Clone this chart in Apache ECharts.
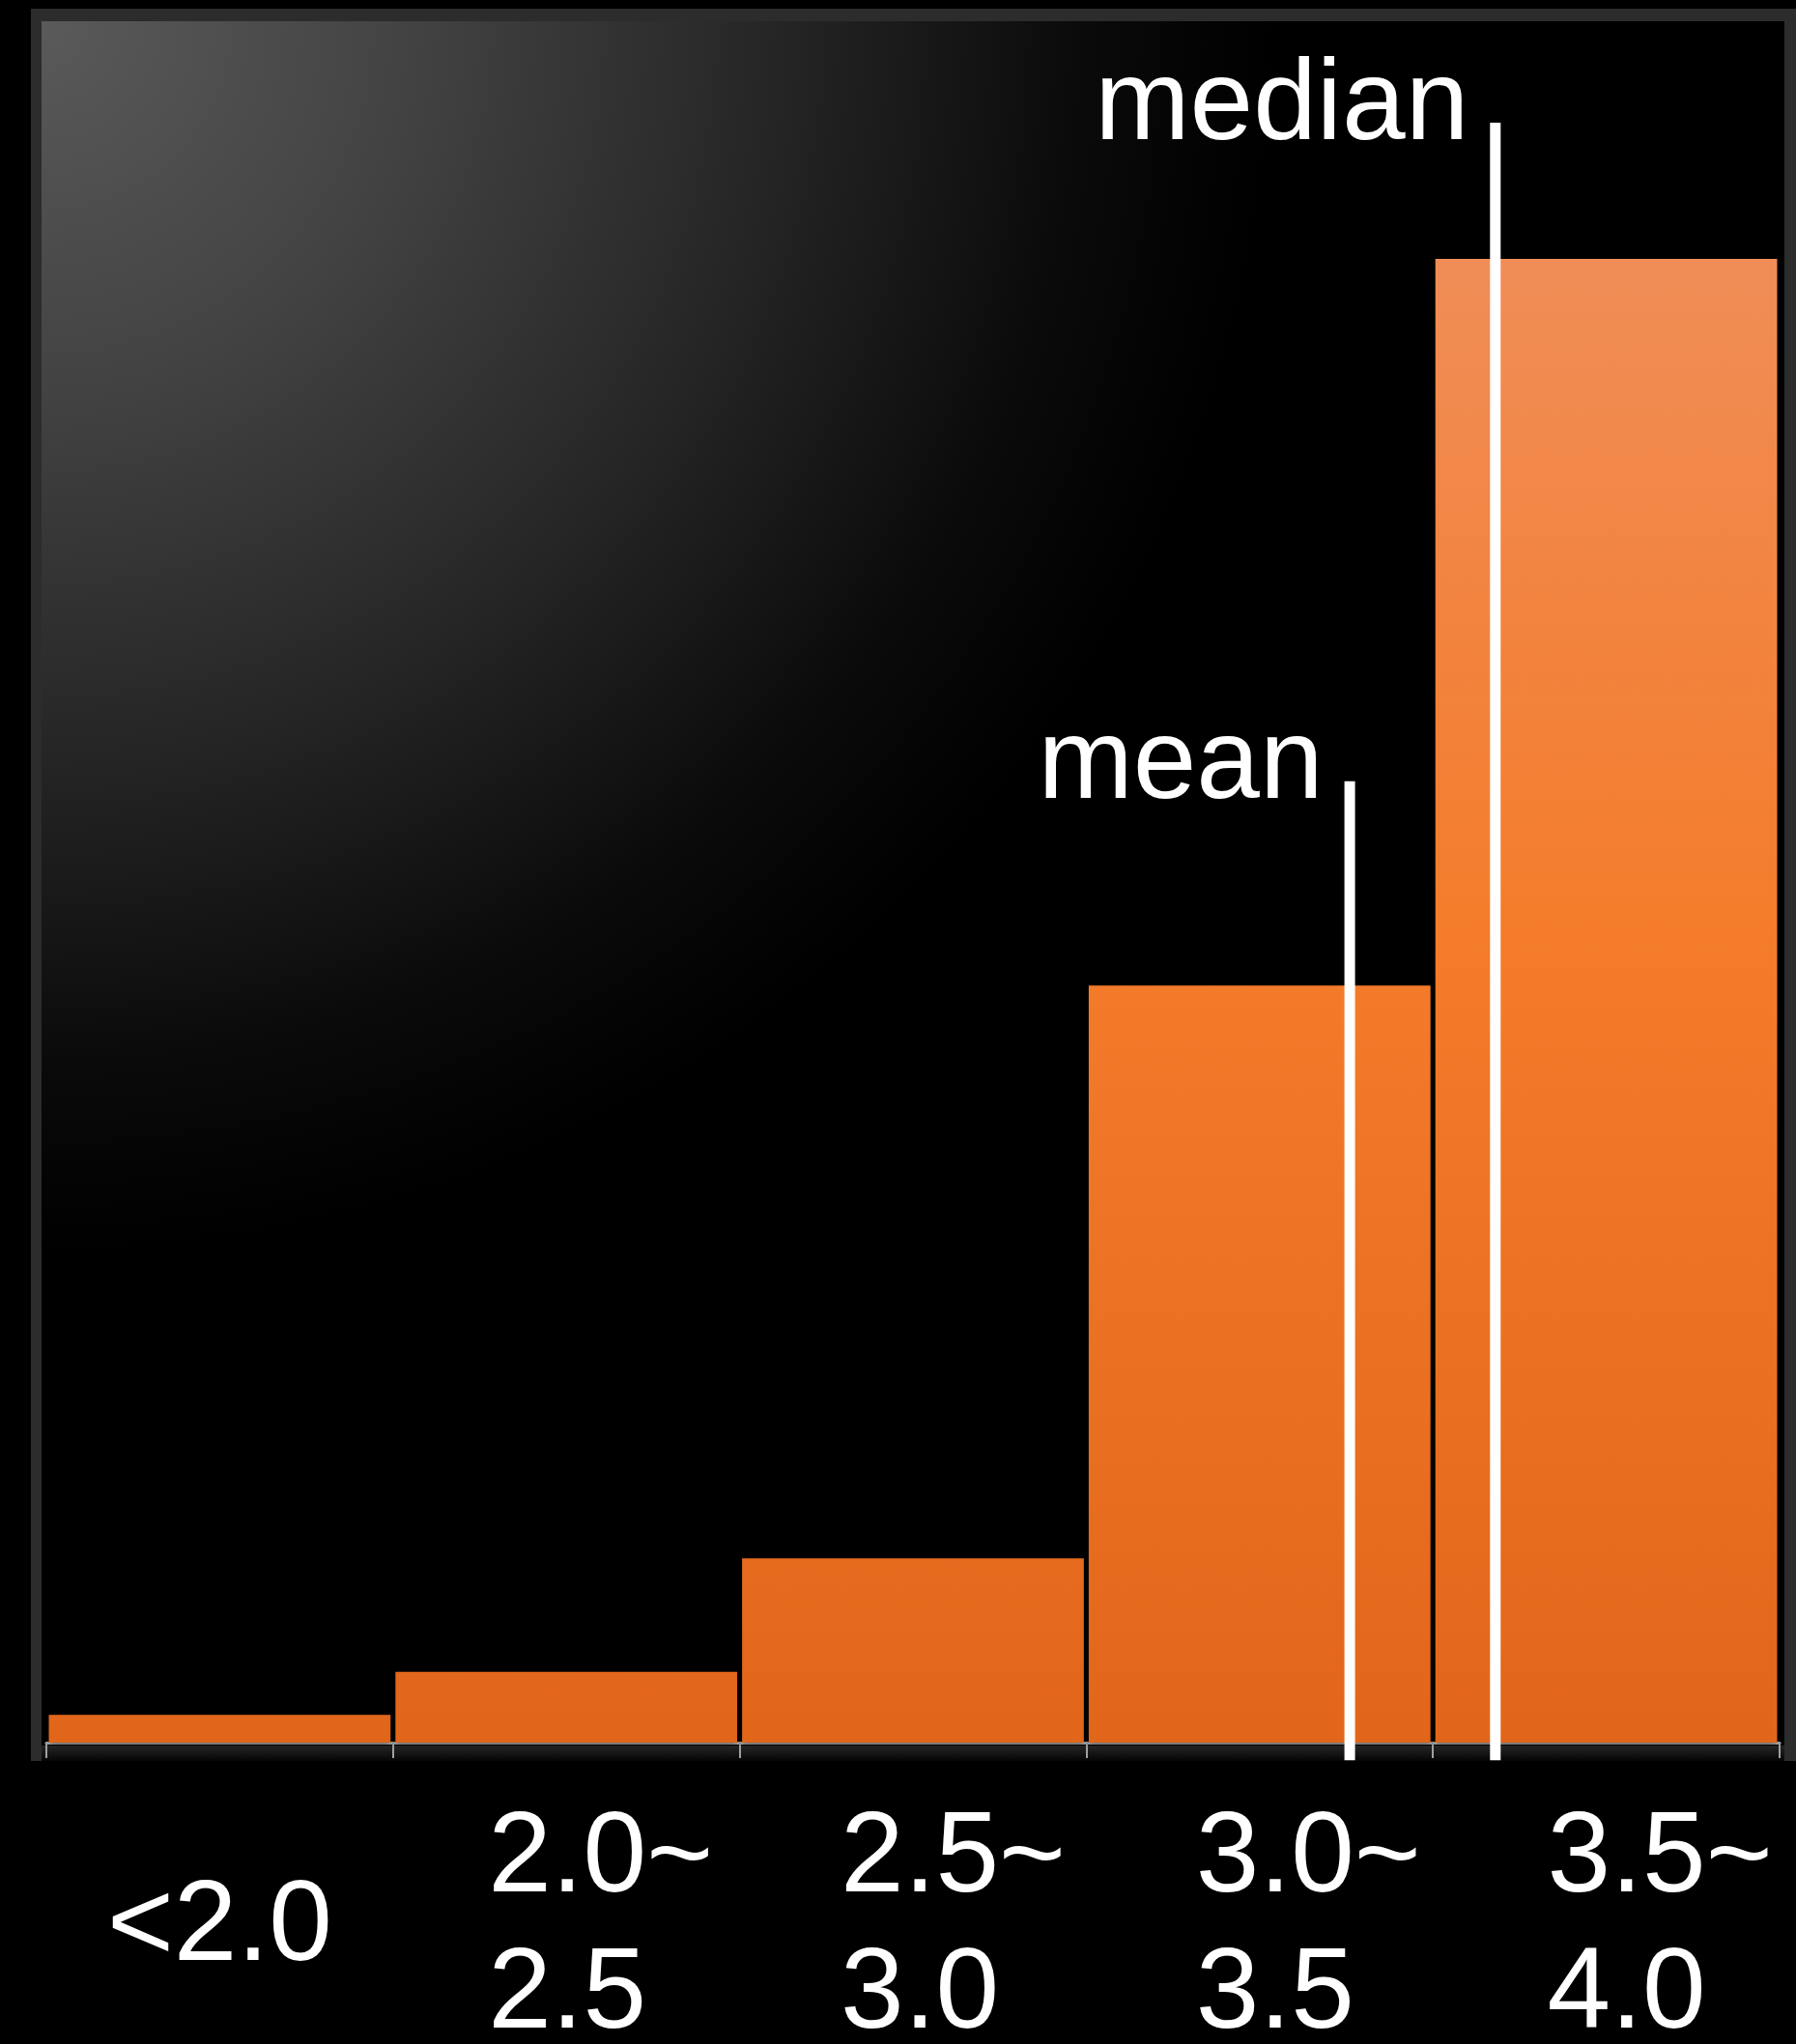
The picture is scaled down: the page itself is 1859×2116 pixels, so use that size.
<!DOCTYPE html>
<html><head><meta charset="utf-8">
<script src="https://cdn.jsdelivr.net/npm/echarts@6/dist/echarts.min.js"></script>
<style>html,body{margin:0;padding:0;background:#000;}#c{width:1859px;height:2116px;}</style>
</head><body><div id="c"></div>
<script>
// ---- data ----
const categories = ['<2.0', '2.0~\n2.5', '2.5~\n3.0', '3.0~\n3.5', '3.5~\n4.0'];
const shares = [1.1, 2.8, 7.3, 30.0, 58.8];
const statNames = ['mean', 'median'];
const statValues = [3.38, 3.59];
const statLineTops = [38.1, 64.2];
const statLineBottom = -0.7;
const binRange = [1.5, 4.0];
const yMax = 65;

const FONT = '"Liberation Sans", Arial, Helvetica, sans-serif';
const chart = echarts.init(document.getElementById('c'));

const labelBoxWidths = [0, 162, 150, 132, 122];
const richStyles = {
  s: { align: 'center', color: '#fff', fontSize: 118, lineHeight: 141, fontFamily: FONT }
};
labelBoxWidths.forEach((w, i) => {
  richStyles['l' + i] = { width: w || 150, align: 'left', color: '#fff', fontSize: 118, lineHeight: 141, fontFamily: FONT };
});

const lineSeries = statNames.map((n, i) => ({
  type: 'line', name: n, xAxisIndex: 1, yAxisIndex: 0,
  data: [[statValues[i], statLineBottom], [statValues[i], statLineTops[i]]],
  symbol: 'none', clip: false, silent: true, z: 5,
  lineStyle: { color: '#ffffff', width: 11, cap: 'butt', opacity: 1 }
}));

chart.setOption({
  backgroundColor: '#000',
  animation: false,
  graphic: { elements: [
    { type: 'rect', z: -20, silent: true, shape: { x: 32, y: 9, width: 1827, height: 1814 }, style: { fill: '#2c2c2c' } },
    { type: 'rect', z: -19, silent: true, shape: { x: 43, y: 22, width: 1804, height: 1785 },
      style: { fill: { type: 'radial', x: 43, y: 22, r: 1500, global: true, colorStops: [
        { offset: 0, color: '#5a5a5a' }, { offset: 0.25, color: '#434343' }, { offset: 0.5, color: '#262626' },
        { offset: 0.72, color: '#0a0a0a' }, { offset: 0.85, color: '#000' }, { offset: 1, color: '#000' } ] } } },
    { type: 'rect', z: -19, silent: true, shape: { x: 43, y: 1807, width: 1804, height: 16 },
      style: { fill: { type: 'linear', x: 0, y: 0, x2: 0, y2: 1, colorStops: [
        { offset: 0, color: '#262626' }, { offset: 1, color: '#050505' } ] } } }
  ] },
  grid: { left: 48, right: 17, top: 106, bottom: 312, containLabel: false, outerBoundsMode: 'none' },
  xAxis: [
    { type: 'category', data: categories, boundaryGap: true,
      axisLine: { show: true, lineStyle: { color: '#b4b4b4', width: 3 } },
      axisTick: { show: true, length: 16, lineStyle: { color: '#a0a0a0', width: 2 } },
      axisLabel: {
        interval: 0, margin: 192, align: 'center', verticalAlign: 'middle',
        formatter: function (v, idx) {
          if (v.indexOf('\n') >= 0) {
            return v.split('\n').map(s => '{l' + idx + '|' + s + '}').join('\n');
          }
          return '{s|' + v + '}';
        },
        rich: richStyles
      },
      splitLine: { show: false }
    },
    { type: 'value', min: binRange[0], max: binRange[1], show: false, gridIndex: 0 }
  ],
  yAxis: { type: 'value', min: 0, max: yMax, show: false, splitLine: { show: false } },
  series: [
    { type: 'bar', data: shares, barCategoryGap: '1.4%', xAxisIndex: 0, z: 2,
      itemStyle: {
        color: { type: 'linear', x: 0, y: 268, x2: 0, y2: 1804, global: true, colorStops: [
          { offset: 0, color: '#f08d57' }, { offset: 0.45, color: '#f47c2b' }, { offset: 1, color: '#e2661a' } ] },
        shadowBlur: 6, shadowColor: 'rgba(0,0,0,0.8)'
      }
    },
    ...lineSeries,
    { type: 'scatter', xAxisIndex: 1, yAxisIndex: 0, z: 6, silent: true,
      data: statNames.map((n, i) => [statValues[i], statLineTops[i], n]),
      symbolSize: 1, itemStyle: { color: 'rgba(0,0,0,0)', opacity: 1 },
      label: { show: true, position: 'left', distance: 27, offset: [0, -15],
        formatter: p => p.data[2], color: '#ffffff', opacity: 1, fontSize: 118, fontFamily: FONT }
    }
  ]
});
</script>
</body></html>
